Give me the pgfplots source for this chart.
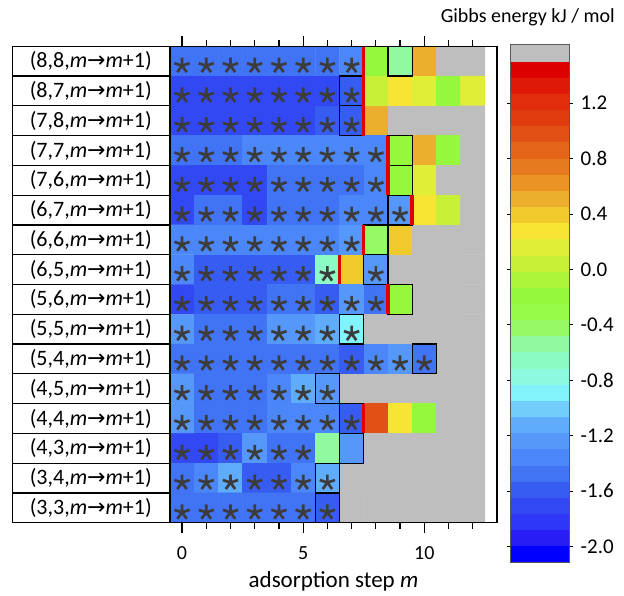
\documentclass[border=0pt]{standalone}
\usepackage{fontspec}
\setmainfont{Carlito}
\newfontfamily\arrowfont{DejaVu Sans}
\usepackage{pgfplots}
\pgfplotsset{compat=1.18}
\definecolor{starc}{RGB}{60,60,60}
\definecolor{redl}{RGB}{225,0,0}
\newcommand{\lbl}[2]{(#1,#2,\textit{m}{\arrowfont\symbol{"2192}}\textit{m}+1)}
% five-armed asterisk mark, centre slightly below the data point
\pgfdeclareplotmark{ast5}{%
  \pgfpathmoveto{\pgfqpoint{0pt}{-4.5pt}}\pgfpathlineto{\pgfpointadd{\pgfqpoint{0pt}{-4.5pt}}{\pgfpointpolar{90}{\pgfplotmarksize}}}%
  \pgfpathmoveto{\pgfqpoint{0pt}{-4.5pt}}\pgfpathlineto{\pgfpointadd{\pgfqpoint{0pt}{-4.5pt}}{\pgfpointpolar{18}{\pgfplotmarksize}}}%
  \pgfpathmoveto{\pgfqpoint{0pt}{-4.5pt}}\pgfpathlineto{\pgfpointadd{\pgfqpoint{0pt}{-4.5pt}}{\pgfpointpolar{162}{\pgfplotmarksize}}}%
  \pgfpathmoveto{\pgfqpoint{0pt}{-4.5pt}}\pgfpathlineto{\pgfpointadd{\pgfqpoint{0pt}{-4.5pt}}{\pgfpointpolar{234}{\pgfplotmarksize}}}%
  \pgfpathmoveto{\pgfqpoint{0pt}{-4.5pt}}\pgfpathlineto{\pgfpointadd{\pgfqpoint{0pt}{-4.5pt}}{\pgfpointpolar{306}{\pgfplotmarksize}}}%
  \pgfusepathqstroke}
\begin{document}
\begin{tikzpicture}
\path[use as bounding box] (-169.9pt,-73.3pt) rectangle (454.1pt,522.7pt);
\begin{axis}[
  at={(0pt,0pt)}, anchor=south west,
  scale only axis, width=327.1pt, height=476.4pt,
  xmin=-0.5, xmax=13, ymin=-0.5, ymax=15.5,
  enlargelimits=false,
  axis on top,
  axis line style={black, line width=1.4pt},
  xtick={0,5,10}, minor xtick={1,2,3,4,6,7,8,9,11,12},
  tick align=outside,
  xtick style={black, line width=1.2pt},
  major tick length=10pt, minor tick length=6pt,
  ytick={0,...,15},
  yticklabels={{\lbl{3}{3}},{\lbl{3}{4}},{\lbl{4}{3}},{\lbl{4}{4}},{\lbl{4}{5}},{\lbl{5}{4}},{\lbl{5}{5}},{\lbl{5}{6}},{\lbl{6}{5}},{\lbl{6}{6}},{\lbl{6}{7}},{\lbl{7}{6}},{\lbl{7}{7}},{\lbl{7}{8}},{\lbl{8}{7}},{\lbl{8}{8}}},
  ytick style={draw=none},
  yticklabel style={draw=black, line width=1.2pt, minimum width=157pt, minimum height=29.78pt, inner sep=0pt, anchor=east, font=\fontsize{22}{22}\selectfont, xshift=10pt},
  xticklabel style={font=\fontsize{20}{20}\selectfont, yshift=-10pt},
  /pgf/number format/assume math mode=true,
  xlabel={adsorption step \textit{m}},
  xlabel style={font=\fontsize{23}{23}\selectfont, yshift=-5pt},
  colormap={gibbs}{
    rgb255=(0,0,255) rgb255=(40,30,245) rgb255=(45,55,245) rgb255=(50,72,242)
    rgb255=(55,92,242) rgb255=(65,115,245) rgb255=(75,135,248) rgb255=(85,152,250)
    rgb255=(95,172,250) rgb255=(115,205,250) rgb255=(130,243,250) rgb255=(140,250,222)
    rgb255=(140,250,195) rgb255=(145,250,160) rgb255=(150,250,100) rgb255=(150,250,72)
    rgb255=(150,248,60) rgb255=(172,245,58) rgb255=(200,240,55) rgb255=(225,238,55)
    rgb255=(248,228,50) rgb255=(240,202,45) rgb255=(236,175,45) rgb255=(235,148,38)
    rgb255=(230,122,30) rgb255=(228,100,25) rgb255=(225,80,20) rgb255=(225,60,15)
    rgb255=(225,45,12) rgb255=(222,25,8) rgb255=(220,0,0) rgb255=(190,190,190)},
  colormap access=piecewise constant,
  point meta min=-2.1155, point meta max=1.621,
  colorbar,
  colorbar style={
    at={(parent axis.north east)}, anchor=north west,
    xshift=4.3pt, yshift=1.6pt,
    scale only axis, width=59.7pt, height=517.7pt,
    axis on top,
    axis line style={draw=gray!70!black, line width=0.6pt},
    xtick=\empty,
    ytick={-2,-1.6,-1.2,-0.8,-0.4,0,0.4,0.8,1.2},
    yticklabel={\pgfmathprintnumber[fixed, fixed zerofill, precision=1, assume math mode=true]{\tick}},
    ytick style={draw=black, line width=0.6pt},
    tick align=outside, major tick length=3pt,
    yticklabel style={draw=none, minimum width=0pt, minimum height=0pt, inner sep=3pt, anchor=west, xshift=5pt, font=\fontsize{21}{21}\selectfont},
  },
]
\addplot[matrix plot*, mesh/cols=13, point meta=explicit] coordinates {
(0,15)[-1.47] (1,15)[-1.47] (2,15)[-1.47] (3,15)[-1.47] (4,15)[-1.47] (5,15)[-1.47] (6,15)[-1.47] (7,15)[-1.36] (8,15)[-0.19] (9,15)[-0.54] (10,15)[0.51] (11,15)[1.56] (12,15)[1.56]

(0,14)[-1.71] (1,14)[-1.71] (2,14)[-1.71] (3,14)[-1.71] (4,14)[-1.71] (5,14)[-1.71] (6,14)[-1.71] (7,14)[-1.59] (8,14)[0.04] (9,14)[0.28] (10,14)[0.16] (11,14)[-0.19] (12,14)[0.16]

(0,13)[-1.71] (1,13)[-1.71] (2,13)[-1.71] (3,13)[-1.71] (4,13)[-1.71] (5,13)[-1.71] (6,13)[-1.59] (7,13)[-1.59] (8,13)[0.51] (9,13)[1.56] (10,13)[1.56] (11,13)[1.56] (12,13)[1.56]

(0,12)[-1.47] (1,12)[-1.47] (2,12)[-1.47] (3,12)[-1.36] (4,12)[-1.36] (5,12)[-1.36] (6,12)[-1.36] (7,12)[-1.36] (8,12)[-1.36] (9,12)[-0.19] (10,12)[0.51] (11,12)[-0.19] (12,12)[1.56]

(0,11)[-1.71] (1,11)[-1.71] (2,11)[-1.71] (3,11)[-1.71] (4,11)[-1.47] (5,11)[-1.47] (6,11)[-1.47] (7,11)[-1.47] (8,11)[-1.36] (9,11)[-0.19] (10,11)[0.16] (11,11)[1.56] (12,11)[1.56]

(0,10)[-1.71] (1,10)[-1.47] (2,10)[-1.47] (3,10)[-1.71] (4,10)[-1.47] (5,10)[-1.47] (6,10)[-1.47] (7,10)[-1.36] (8,10)[-1.36] (9,10)[-1.24] (10,10)[0.28] (11,10)[0.04] (12,10)[1.56]

(0,9)[-1.36] (1,9)[-1.36] (2,9)[-1.36] (3,9)[-1.36] (4,9)[-1.36] (5,9)[-1.36] (6,9)[-1.36] (7,9)[-1.24] (8,9)[-0.42] (9,9)[0.40] (10,9)[1.56] (11,9)[1.56] (12,9)[1.56]

(0,8)[-1.36] (1,8)[-1.59] (2,8)[-1.59] (3,8)[-1.59] (4,8)[-1.59] (5,8)[-1.59] (6,8)[-0.66] (7,8)[0.40] (8,8)[-1.24] (9,8)[1.56] (10,8)[1.56] (11,8)[1.56] (12,8)[1.56]

(0,7)[-1.71] (1,7)[-1.59] (2,7)[-1.59] (3,7)[-1.59] (4,7)[-1.47] (5,7)[-1.47] (6,7)[-1.59] (7,7)[-1.24] (8,7)[-1.47] (9,7)[-0.19] (10,7)[1.56] (11,7)[1.56] (12,7)[1.56]

(0,6)[-1.24] (1,6)[-1.47] (2,6)[-1.47] (3,6)[-1.47] (4,6)[-1.24] (5,6)[-1.24] (6,6)[-1.12] (7,6)[-0.89] (8,6)[1.56] (9,6)[1.56] (10,6)[1.56] (11,6)[1.56] (12,6)[1.56]

(0,5)[-1.47] (1,5)[-1.47] (2,5)[-1.47] (3,5)[-1.47] (4,5)[-1.47] (5,5)[-1.47] (6,5)[-1.47] (7,5)[-1.59] (8,5)[-1.36] (9,5)[-1.24] (10,5)[-1.47] (11,5)[1.56] (12,5)[1.56]

(0,4)[-1.24] (1,4)[-1.47] (2,4)[-1.47] (3,4)[-1.47] (4,4)[-1.36] (5,4)[-1.12] (6,4)[-1.24] (7,4)[1.56] (8,4)[1.56] (9,4)[1.56] (10,4)[1.56] (11,4)[1.56] (12,4)[1.56]

(0,3)[-1.24] (1,3)[-1.47] (2,3)[-1.47] (3,3)[-1.47] (4,3)[-1.36] (5,3)[-1.36] (6,3)[-1.36] (7,3)[-1.59] (8,3)[0.98] (9,3)[0.28] (10,3)[-0.19] (11,3)[1.56] (12,3)[1.56]

(0,2)[-1.71] (1,2)[-1.71] (2,2)[-1.59] (3,2)[-1.24] (4,2)[-1.47] (5,2)[-1.47] (6,2)[-0.54] (7,2)[-1.24] (8,2)[1.56] (9,2)[1.56] (10,2)[1.56] (11,2)[1.56] (12,2)[1.56]

(0,1)[-1.47] (1,1)[-1.36] (2,1)[-1.12] (3,1)[-1.59] (4,1)[-1.59] (5,1)[-1.36] (6,1)[-1.12] (7,1)[1.56] (8,1)[1.56] (9,1)[1.56] (10,1)[1.56] (11,1)[1.56] (12,1)[1.56]

(0,0)[-1.47] (1,0)[-1.47] (2,0)[-1.47] (3,0)[-1.47] (4,0)[-1.47] (5,0)[-1.47] (6,0)[-1.59] (7,0)[1.56] (8,0)[1.56] (9,0)[1.56] (10,0)[1.56] (11,0)[1.56] (12,0)[1.56]
};
% boxed cells
\foreach \bx/\by in {9/15,7/14,7/13,9/12,9/11,9/10,8/9,8/8,9/7,7/6,10/5,6/4,7/3,7/2,6/1,6/0}{
  \edef\tmp{\noexpand\draw[black, line width=1.2pt] (axis cs:\bx-0.5,\by-0.5) rectangle (axis cs:\bx+0.5,\by+0.5);}\tmp
}
% red boundaries
\addplot[redl, line width=3.4pt, forget plot] coordinates {(7.5,14.5) (7.5,15.5)};
\addplot[redl, line width=3.4pt, forget plot] coordinates {(7.5,13.5) (7.5,14.5)};
\addplot[redl, line width=3.4pt, forget plot] coordinates {(7.5,12.5) (7.5,13.5)};
\addplot[redl, line width=3.4pt, forget plot] coordinates {(8.5,11.5) (8.5,12.5)};
\addplot[redl, line width=3.4pt, forget plot] coordinates {(8.5,10.5) (8.5,11.5)};
\addplot[redl, line width=3.4pt, forget plot] coordinates {(9.5,9.5) (9.5,10.5)};
\addplot[redl, line width=3.4pt, forget plot] coordinates {(7.5,8.5) (7.5,9.5)};
\addplot[redl, line width=3.4pt, forget plot] coordinates {(6.5,7.5) (6.5,8.5)};
\addplot[redl, line width=3.4pt, forget plot] coordinates {(8.5,6.5) (8.5,7.5)};
\addplot[redl, line width=3.4pt, forget plot] coordinates {(7.5,2.5) (7.5,3.5)};
% stars
\addplot[only marks, mark=ast5, mark size=8pt, mark options={draw=starc, line width=2.7pt}]
coordinates {
(0,15) (1,15) (2,15) (3,15) (4,15) (5,15) (6,15) (7,15)
(0,14) (1,14) (2,14) (3,14) (4,14) (5,14) (6,14) (7,14)
(0,13) (1,13) (2,13) (3,13) (4,13) (5,13) (6,13) (7,13)
(0,12) (1,12) (2,12) (3,12) (4,12) (5,12) (6,12) (7,12) (8,12)
(0,11) (1,11) (2,11) (3,11) (4,11) (5,11) (6,11) (7,11) (8,11)
(0,10) (1,10) (2,10) (3,10) (4,10) (5,10) (6,10) (7,10) (8,10) (9,10)
(0,9) (1,9) (2,9) (3,9) (4,9) (5,9) (6,9) (7,9)
(0,8) (1,8) (2,8) (3,8) (4,8) (5,8) (6,8) (8,8)
(0,7) (1,7) (2,7) (3,7) (4,7) (5,7) (6,7) (7,7) (8,7)
(0,6) (1,6) (2,6) (3,6) (4,6) (5,6) (6,6) (7,6)
(0,5) (1,5) (2,5) (3,5) (4,5) (5,5) (6,5) (7,5) (8,5) (9,5) (10,5)
(0,4) (1,4) (2,4) (3,4) (4,4) (5,4) (6,4)
(0,3) (1,3) (2,3) (3,3) (4,3) (5,3) (6,3) (7,3)
(0,2) (1,2) (2,2) (3,2) (4,2) (5,2)
(0,1) (1,1) (2,1) (3,1) (4,1) (5,1) (6,1)
(0,0) (1,0) (2,0) (3,0) (4,0) (5,0) (6,0)
};
\end{axis}
\node[anchor=base east, font=\fontsize{20}{20}\selectfont, inner sep=0pt] at (445pt,500pt) {Gibbs energy kJ / mol};
\end{tikzpicture}
\end{document}
